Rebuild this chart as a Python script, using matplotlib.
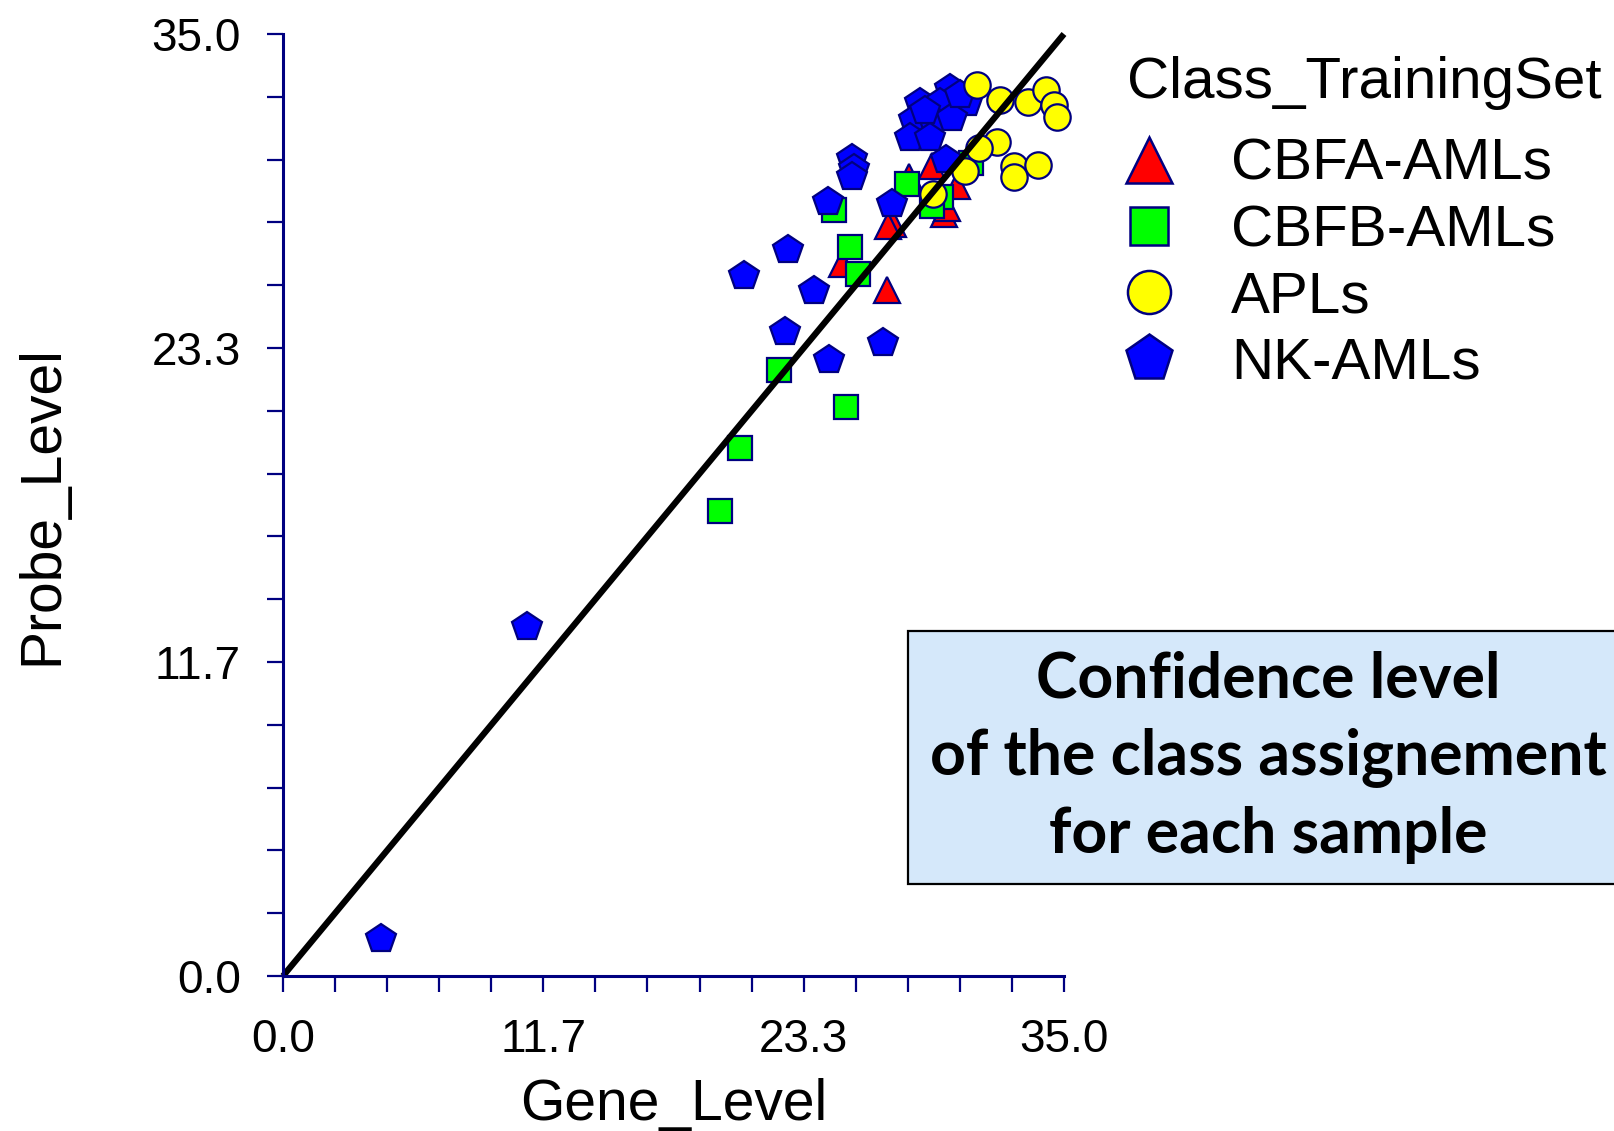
import matplotlib
matplotlib.use('Agg')
import matplotlib.pyplot as plt
from matplotlib.lines import Line2D
from matplotlib.patches import Rectangle
import numpy as np

# values
nk_x = [4.39, 10.94, 20.64, 22.63, 22.49, 23.78, 24.43, 24.47, 26.90, 27.29, 25.5, 25.6, 25.5, 29.69,
        29.87, 30.66, 28.54, 29.46, 28.26, 29.14, 29.97, 28.12, 29.00, 28.77, 30.34]
nk_y = [1.38, 12.97, 26.01, 26.97, 23.91, 25.44, 28.77, 22.87, 23.52, 28.69, 30.35, 30.0, 29.7, 30.33,
        32.94, 32.44, 32.44, 32.44, 31.79, 31.79, 31.87, 31.14, 31.14, 32.13, 32.74]
cbfb_x = [19.58, 20.50, 22.21, 25.21, 24.70, 25.40, 25.77, 27.98, 29.47, 29.10, 30.84]
cbfb_y = [17.29, 19.62, 22.53, 21.15, 28.46, 27.08, 26.09, 29.42, 28.96, 28.60, 30.22]
cbfa_x = [27.06, 25.05, 27.35, 27.10, 28.06, 29.09, 29.62, 29.75, 30.21]
cbfa_y = [25.50, 26.45, 27.95, 27.85, 29.68, 30.10, 28.30, 28.55, 29.34]
apl_x = [31.08, 32.14, 33.38, 34.21, 34.54, 34.68, 32.00, 31.21, 32.74, 33.85, 32.74, 30.57, 29.14]
apl_y = [33.09, 32.55, 32.48, 32.93, 32.36, 31.90, 30.98, 30.75, 30.10, 30.14, 29.68, 29.91, 29.07]

classes = ['CBFA-AMLs', 'CBFB-AMLs', 'APLs', 'NK-AMLs']
tick_labels = ['0.0', '11.7', '23.3', '35.0']

navy = '#000080'
plt.rcParams['font.family'] = ['Liberation Sans', 'DejaVu Sans']

fig = plt.figure(figsize=(16.15, 11.31), dpi=100)
ax = fig.add_axes([283 / 1615, 1 - 976 / 1131, (1064 - 283) / 1615, (976 - 34) / 1131])

ax.plot(cbfa_x, cbfa_y, ls='none', marker='^', ms=19, mfc='#ff0000', mec=navy, mew=1.6, clip_on=False)
ax.plot(cbfb_x, cbfb_y, ls='none', marker='s', ms=17, mfc='#00ff00', mec=navy, mew=1.6, clip_on=False)
ax.plot(nk_x, nk_y, ls='none', marker='p', ms=22, mfc='#0000ff', mec=navy, mew=1.6, clip_on=False)
ax.plot(apl_x, apl_y, ls='none', marker='o', ms=19, mfc='#ffff00', mec=navy, mew=1.6, clip_on=False)
ax.plot([0, 35], [0, 35], color='black', lw=4.5, solid_capstyle='butt', clip_on=False)

ax.set_xlim(0, 35)
ax.set_ylim(0, 35)
ticks = np.linspace(0, 35, 16)
labels = [''] * 16
for i, t in enumerate(tick_labels):
    labels[i * 5] = t
ax.set_xticks(ticks)
ax.set_xticklabels(labels)
ax.set_yticks(ticks)
ax.set_yticklabels(labels)
ax.tick_params(direction='out', length=11.5, width=1.6, color=navy, labelsize=33, pad=19)

for s in ['top', 'right']:
    ax.spines[s].set_visible(False)
for s in ['left', 'bottom']:
    ax.spines[s].set_color(navy)
    ax.spines[s].set_linewidth(2.2)

ax.set_xlabel('Gene_Level', fontsize=41, labelpad=11)
ax.set_ylabel('Probe_Level', fontsize=41, labelpad=59)

# legend
handles = [
    Line2D([], [], ls='none', marker='^', ms=33, mfc='#ff0000', mec=navy, mew=1.8),
    Line2D([], [], ls='none', marker='s', ms=27, mfc='#00ff00', mec=navy, mew=1.8),
    Line2D([], [], ls='none', marker='o', ms=31, mfc='#ffff00', mec=navy, mew=1.8),
    Line2D([], [], ls='none', marker='p', ms=35, mfc='#0000ff', mec=navy, mew=1.8),
]
fig.legend(handles, classes, loc='upper left', bbox_to_anchor=(1125 / 1615, 1 - 138 / 1131),
           frameon=False, fontsize=42, handlelength=0.82, handletextpad=1.0,
           labelspacing=0.21, borderpad=0, borderaxespad=0)
fig.text(1127 / 1615, 1 - 98 / 1131, 'Class_TrainingSet', fontsize=42, ha='left', va='baseline')

# annotation box
fig.patches.append(Rectangle((908 / 1615, 1 - 884 / 1131), 0.5, (884 - 631) / 1131,
                             transform=fig.transFigure, facecolor='#d5e8fa', edgecolor='black',
                             lw=1.6, clip_on=False))
fig.text(1268 / 1615, 1 - 757 / 1131, 'Confidence level\nof the class assignement\nfor each sample',
         fontsize=45, fontweight='bold', family=['Lato', 'DejaVu Sans'], ha='center', va='center',
         linespacing=1.4)

fig.savefig('out.png', dpi=100)
